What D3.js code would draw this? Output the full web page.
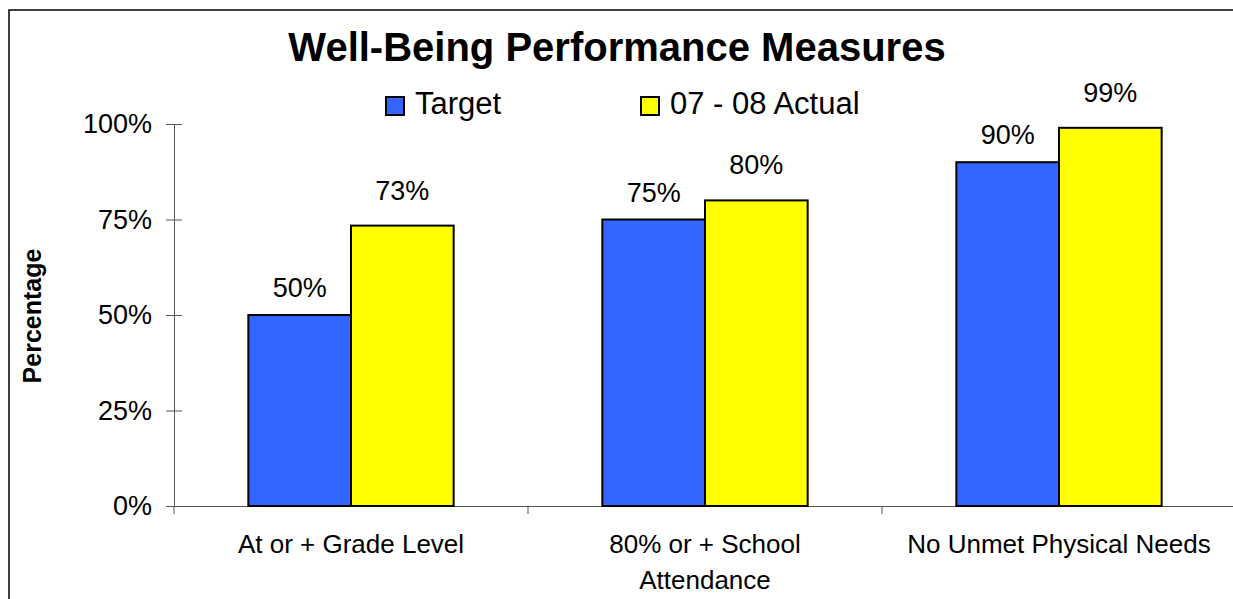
<!DOCTYPE html>
<html>
<head>
<meta charset="utf-8">
<script src="https://cdn.jsdelivr.net/npm/d3@7"></script>
<style>
  body { margin: 0; background: #fff; }
  svg { display: block; font-family: "Liberation Sans", Arial, sans-serif; }
</style>
</head>
<body>
<svg id="chart"></svg>
<script>
// chart data
const categories = ["At or + Grade Level", "80% or + School Attendance", "No Unmet Physical Needs"];
const categoryLines = [["At or + Grade Level"], ["80% or + School", "Attendance"], ["No Unmet Physical Needs"]];
const seriesNames = ["Target", "07 - 08 Actual"];
const targetValues = [50, 75, 90];
const actualValues = [73.4, 80, 99];
const yTicks = [0, 25, 50, 75, 100];

const colors = ["#3366ff", "#ffff00"];
const labelGap = [18, 26];

const W = 1233, H = 599;
const svg = d3.select("#chart").attr("width", W).attr("height", H);

// frame around the whole chart (runs off right and bottom edges)
svg.append("rect")
  .attr("x", 9).attr("y", 10)
  .attr("width", W + 20).attr("height", H + 20)
  .attr("fill", "none").attr("stroke", "#000").attr("stroke-width", 1.5);

const plotLeft = 174, plotRight = 1236, plotBottom = 506, plotTop = 124;

const x0 = d3.scaleBand().domain(categories).range([plotLeft, plotRight]).padding(0);
const gap = x0.bandwidth() * 0.21;
const x1 = d3.scaleBand().domain(seriesNames).range([gap, x0.bandwidth() - gap]).padding(0);
const y = d3.scaleLinear().domain([0, 100]).range([plotBottom, plotTop]);

// y axis
const yAxis = svg.append("g").attr("transform", `translate(${plotLeft},0)`)
  .call(d3.axisLeft(y).tickValues(yTicks).tickFormat(d => d + "%").tickSizeInner(8).tickSizeOuter(0).tickPadding(14));
yAxis.select(".domain").attr("stroke", "#555");
yAxis.selectAll(".tick line").attr("x1", 8).attr("stroke", "#555");
yAxis.selectAll(".tick text").attr("font-size", 27).attr("fill", "#000")
  .attr("font-family", "Liberation Sans, Arial, sans-serif");

// x axis
const xAxis = svg.append("g").attr("transform", `translate(0,${plotBottom})`)
  .call(d3.axisBottom(x0).tickSize(0).tickFormat(""));
xAxis.select(".domain").attr("stroke", "#555");
xAxis.selectAll(".tick").remove();
const boundaries = [plotLeft].concat(categories.map(c => x0(c) + x0.bandwidth()));
xAxis.selectAll("line.cat")
  .data(boundaries)
  .join("line")
  .attr("class", "cat")
  .attr("x1", d => d).attr("x2", d => d)
  .attr("y1", 0).attr("y2", 8)
  .attr("stroke", "#555");

// category labels
const catG = svg.append("g");
categories.forEach((c, i) => {
  const t = catG.append("text")
    .attr("x", x0(c) + x0.bandwidth() / 2)
    .attr("y", 553)
    .attr("text-anchor", "middle")
    .attr("font-size", 26)
    .attr("fill", "#000");
  categoryLines[i].forEach((line, j) => {
    t.append("tspan")
      .attr("x", x0(c) + x0.bandwidth() / 2)
      .attr("dy", j === 0 ? 0 : 36)
      .text(line);
  });
});

// bars
const rows = categories.map((c, i) => ({
  cat: c,
  vals: [
    { s: seriesNames[0], v: targetValues[i], k: 0 },
    { s: seriesNames[1], v: actualValues[i], k: 1 }
  ]
}));

const groups = svg.append("g").selectAll("g")
  .data(rows)
  .join("g")
  .attr("transform", d => `translate(${x0(d.cat)},0)`);

groups.selectAll("rect")
  .data(d => d.vals)
  .join("rect")
  .attr("x", d => x1(d.s))
  .attr("y", d => y(d.v))
  .attr("width", x1.bandwidth())
  .attr("height", d => y(0) - y(d.v))
  .attr("fill", d => colors[d.k])
  .attr("stroke", "#000")
  .attr("stroke-width", 2);

groups.selectAll("text")
  .data(d => d.vals)
  .join("text")
  .attr("x", d => x1(d.s) + x1.bandwidth() / 2)
  .attr("y", d => y(d.v) - labelGap[d.k])
  .attr("text-anchor", "middle")
  .attr("font-size", 27)
  .text(d => Math.round(d.v - 0.001) + "%");

// title
svg.append("text")
  .attr("x", 617).attr("y", 61)
  .attr("text-anchor", "middle")
  .attr("font-size", 40)
  .attr("font-weight", "bold")
  .text("Well-Being Performance Measures");

// y axis title
svg.append("text")
  .attr("transform", "translate(41,316) rotate(-90)")
  .attr("text-anchor", "middle")
  .attr("font-size", 25)
  .attr("font-weight", "bold")
  .text("Percentage");

// legend
const legendX = [386, 641];
const legend = svg.append("g").selectAll("g")
  .data(seriesNames)
  .join("g")
  .attr("transform", (d, i) => `translate(${legendX[i]},97)`);
legend.append("rect")
  .attr("width", 18).attr("height", 18)
  .attr("fill", (d, i) => colors[i])
  .attr("stroke", "#000").attr("stroke-width", 2);
legend.append("text")
  .attr("x", 29).attr("y", 17)
  .attr("font-size", 31)
  .text(d => d);
</script>
</body>
</html>
